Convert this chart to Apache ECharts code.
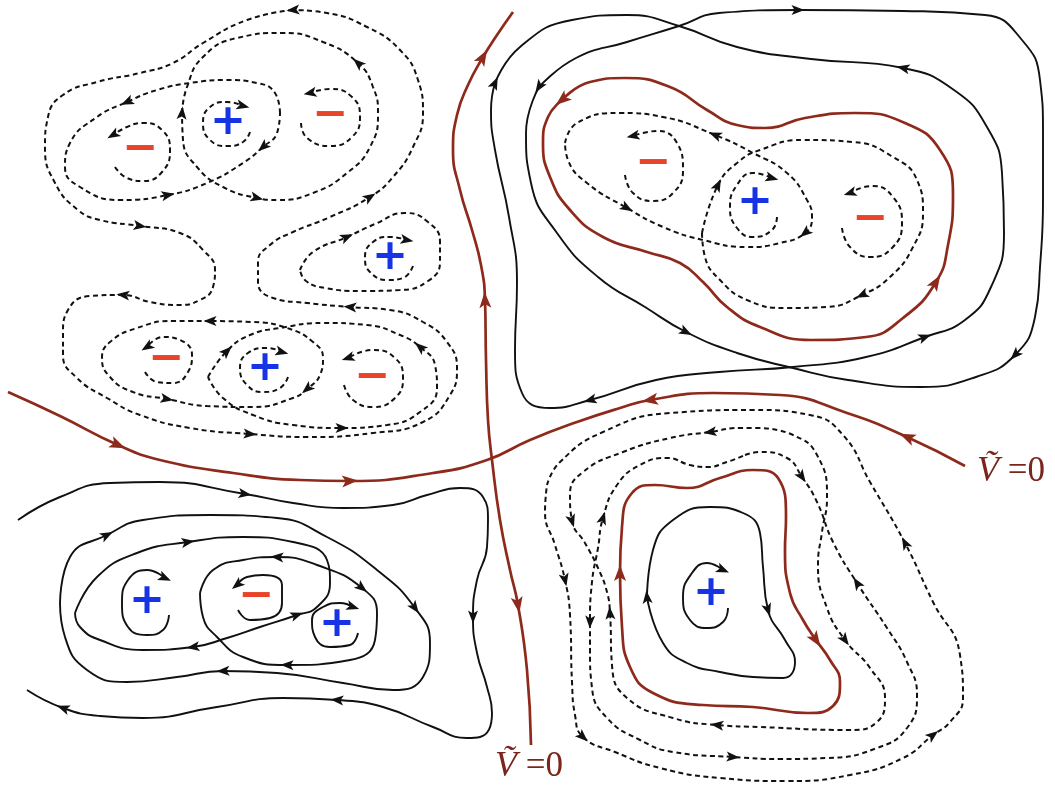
<!DOCTYPE html>
<html>
<head>
<meta charset="utf-8">
<script src="https://cdn.jsdelivr.net/npm/echarts/dist/echarts.min.js"></script>
<style>
  html, body { margin: 0; padding: 0; background: #ffffff; }
  #chart { width: 1055px; height: 787px; }
</style>
</head>
<body>
<div id="chart"></div>
<script>
// ---------- Streamline geometry (plane coordinates, y grows downward) ----------
// Each arrow entry is [point index, sense]: sense +1 follows the point order, -1 runs against it.

// Upper-left cluster
const tlArcA = [[115,167],[127,178],[143,181],[162,172],[170,150],[162,130],[142,123],[127,127],[113,135]];
const tlArcB = [[250,132],[243,142],[227,146],[210,140],[203,123],[210,107],[227,102],[243,106]];
const tlArcC = [[301,123],[307,138],[330,146],[352,137],[360,117],[352,97],[330,89],[310,93]];
const tlLoopL = [[280,113],[275,93],[257,83],[227,80],[190,83],[157,90],[127,102],[97,117],[70,143],[65,167],[80,187],[120,200],[168,195],[207,183],[243,163],[263,147],[277,133]];
const tlLoopLArrows = [[6,1],[12,1],[15,-1]];
const tlLoopR = [[182,113],[187,87],[203,57],[237,38],[283,33],[323,42],[358,63],[373,87],[378,113],[370,147],[347,173],[313,193],[277,200],[257,198],[223,187],[197,167],[183,140]];
const tlLoopRArrows = [[0,1],[6,-1],[13,-1]];
const tlOuter = [[293,10],[247,20],[203,43],[173,63],[140,73],[97,82],[63,95],[48,117],[45,147],[55,183],[78,210],[100,220],[140,226],[180,233],[203,250],[215,270],[213,287],[200,300],[177,305],[150,302],[123,295],[90,296],[68,310],[63,333],[63,355],[77,378],[107,398],[140,415],[190,428],[250,434],[307,437],[373,433],[423,422],[450,395],[457,368],[447,342],[423,322],[390,310],[350,307],[307,303],[273,298],[258,282],[258,262],[270,245],[293,232],[330,217],[370,197],[393,177],[413,147],[423,113],[418,80],[400,50],[367,27],[327,13]];
const tlOuterArrows = [[0,1],[12,1],[20,1],[29,1],[38,1],[46,1]];
const midDrop = [[300,270],[313,252],[347,237],[375,224],[405,213],[428,222],[440,242],[440,262],[428,281],[400,290],[360,291],[325,288],[306,281]];
const midDropArrows = [[2,1]];
const midArc = [[413,266],[403,278],[388,280],[370,272],[365,257],[373,242],[390,237],[407,240]];
const lowLoopL = [[210,321],[173,321],[137,328],[110,342],[102,358],[110,377],[133,392],[167,399],[207,406],[253,407],[293,398],[307,389],[320,375],[323,358],[313,342],[287,328],[253,322]];
const lowLoopLArrows = [[0,1],[7,1],[11,-1]];
const lowLoopR = [[208,377],[227,351],[250,335],[280,328],[323,323],[367,325],[400,335],[420,347],[435,365],[437,388],[420,412],[387,425],[342,428],[293,425],[253,415],[223,398]];
const lowLoopRArrows = [[1,1],[7,-1],[12,-1]];
const lowArcA = [[145,372],[157,382],[173,383],[188,372],[192,355],[180,340],[163,337],[147,347]];
const lowArcB = [[288,377],[280,388],[263,392],[247,385],[240,368],[248,353],[267,348],[282,352]];
const lowArcC = [[344,385],[353,400],[373,407],[395,398],[403,378],[395,358],[373,350],[348,358]];

// Upper-right cluster
const trDropL = [[565,143],[577,123],[620,113],[663,117],[715,135],[753,153],[787,173],[807,200],[812,217],[805,233],[780,243],[747,247],[703,240],[663,227],[627,208],[587,183],[568,160]];
const trDropLArrows = [[4,-1],[9,1],[14,-1]];
const trLoopR = [[702,233],[718,185],[737,163],[760,150],[803,140],[853,142],[893,157],[917,180],[923,213],[913,247],[890,277],[862,295],[827,307],[787,308],[747,300],[720,280],[705,257]];
const trLoopRArrows = [[1,1],[11,1]];
const trArcA = [[625,175],[633,193],[653,201],[673,193],[683,170],[677,143],[657,131],[633,136]];
const trArcB = [[777,217],[772,230],[753,237],[737,228],[730,207],[737,185],[753,173],[772,178]];
const trArcC = [[842,228],[850,247],[870,257],[892,248],[902,223],[893,197],[872,186],[850,193]];
const trRed = [[562,100],[548,117],[543,143],[550,177],[570,210],[603,237],[647,252],[680,263],[703,282],[727,307],[760,327],[811,340],[866,337],[903,318],[936,282],[948,245],[953,195],[940,150],[905,123],[855,113],[805,118],[765,128],[737,125],[707,110],[670,87],[625,78],[590,82]];
const trRedArrows = [[0,1],[14,1]];
const trSolidA = [[495,83],[520,47],[572,20],[627,15],[679,26],[737,47],[811,59],[903,68],[954,90],[987,127],[1002,173],[1004,233],[991,287],[965,320],[925,337],[866,357],[793,367],[719,372],[656,380],[590,400],[550,408],[522,393],[515,350],[517,283],[509,217],[495,150],[491,110]];
const trSolidAArrows = [[0,1],[7,-1],[14,-1],[19,1]];
const trSolidB = [[539,87],[526,133],[531,183],[557,233],[598,277],[645,307],[686,332],[737,353],[793,368],[848,380],[921,387],[976,377],[1015,355],[1035,317],[1040,267],[1043,200],[1043,133],[1040,80],[1022,40],[985,15],[903,11],[798,10],[719,13],[679,26],[627,42],[576,58]];
const trSolidBArrows = [[0,1],[6,1],[12,-1],[21,-1]];

// Separatrices  V~ = 0
const sepVertical = [[513,12],[497,35],[483,57],[468,85],[457,115],[453,150],[460,190],[472,230],[481,265],[485,300],[486,360],[488,420],[492,460],[500,520],[510,570],[518,605],[527,670],[531,745]];
const sepVerticalArrows = [[2,-1],[9,-1],[15,1]];
const sepHorizontal = [[8,392],[60,416],[118,445],[160,460],[233,473],[300,480],[350,481],[433,473],[487,460],[530,440],[577,422],[620,408],[650,400],[713,393],[780,395],[847,413],[907,437],[965,466]];
const sepHorizontalArrows = [[2,1],[6,1],[12,-1],[16,-1]];

// Lower-left cluster
const blOpen = [[18,520],[60,497],[110,483],[160,482],[245,494],[293,503],[343,508],[393,505],[427,495],[460,488],[483,497],[488,520],[487,547],[477,580],[473,617],[477,653],[487,687],[492,713],[480,737],[467,738],[433,727],[383,707],[337,700],[283,698],[217,707],[143,718],[100,716],[63,708],[27,690]];
const blOpenArrows = [[4,1],[14,1],[22,1],[27,1]];
const blOuter = [[60,603],[70,557],[107,535],[143,520],[210,515],[277,518],[327,537],[377,570],[415,608],[430,643],[423,677],[393,690],[343,683],[277,673],[223,671],[177,677],[127,682],[87,670],[65,637]];
const blOuterArrows = [[2,1],[8,1],[14,1]];
const blLoopL = [[75,613],[97,577],[137,553],[188,542],[243,537],[293,542],[327,560],[330,583],[317,607],[297,615],[260,627],[227,638],[193,647],[143,650],[100,640],[80,627]];
const blLoopLArrows = [[3,1],[9,-1],[12,1]];
const blLoopR = [[200,593],[213,570],[243,560],[277,557],[317,565],[362,588],[377,613],[375,640],[350,660],[287,665],[243,657],[217,637],[203,617]];
const blLoopRArrows = [[3,-1],[5,1],[9,1]];
const blArcA = [[169,615],[163,630],[147,635],[128,627],[122,603],[128,580],[147,570],[165,578]];
const blArcB = [[238,610],[250,620],[270,618],[282,603],[282,585],[263,575],[247,577],[237,585]];
const blArcC = [[358,633],[350,645],[330,647],[315,637],[312,620],[323,607],[340,603],[353,607]];

// Lower-right cluster
const brArc = [[728,608],[723,622],[707,628],[690,620],[683,597],[692,573],[707,563],[723,570]];
const brInner = [[647,597],[653,550],[673,520],[710,507],[743,513],[760,533],[763,567],[768,610],[785,640],[795,662],[783,678],[753,677],[720,672],[687,663],[663,643]];
const brInnerArrows = [[0,1],[7,1]];
const brRed = [[620,573],[622,527],[632,493],[655,485],[687,488],[720,478],[753,470],[778,478],[786,517],[785,550],[790,593],[803,620],[816,640],[830,660],[840,682],[833,706],[808,713],[753,707],[703,705],[653,693],[630,667],[622,627]];
const brRedArrows = [[0,1],[12,1]];
const brRing1 = [[547,485],[560,462],[603,432],[670,413],[753,410],[810,415],[843,435],[870,482],[905,543],[933,602],[960,655],[963,698],[950,722],[933,735],[903,758],[850,775],[787,781],[720,778],[660,768],[615,752],[583,737],[575,715],[572,682],[570,615],[565,580],[555,545],[545,512]];
const brRing1Arrows = [[8,-1],[13,-1],[20,-1],[24,-1]];
const brRing2 = [[760,428],[740,428],[710,432],[670,438],[623,452],[583,472],[570,495],[572,521],[585,543],[598,568],[607,592],[610,613],[612,665],[627,698],[673,718],[717,725],[760,727],[850,730],[877,722],[885,698],[870,668],[845,640],[827,608],[818,565],[822,532],[827,498],[817,455],[793,435]];
const brRing2Arrows = [[2,1],[7,1],[11,-1],[15,-1],[21,-1]];
const brRing3 = [[745,455],[760,452],[787,458],[802,477],[817,502],[833,542],[857,583],[887,628],[907,662],[917,695],[907,728],[877,748],[827,758],[780,759],[733,757],[673,752],[640,740],[607,718],[592,688],[590,650],[590,622],[592,582],[598,548],[603,518],[617,485],[640,465],[667,458],[690,465],[707,467],[727,462]];
const brRing3Arrows = [[3,1],[6,-1],[14,-1],[20,-1],[23,1]];

// Vortex centres
const plusCentres = [[228,123],[390,258],[265,369],[755,203],[147,602],[337,625],[711,594]];
const minusCentres = [[140,150],[330,116],[166,360],[372,378],[653,164],[870,220],[256,597]];
const zeroLabelSpots = [[1011,472],[529,767]];

// ---------- Curve groups ----------
const lastArrow = pts => [[pts.length - 1, 1]];
const curve = (pts, arrows, closed) => ({ pts, arrows, closed });

const dashedCurves = [
  curve(tlArcA, lastArrow(tlArcA), false),
  curve(tlArcB, lastArrow(tlArcB), false),
  curve(tlArcC, lastArrow(tlArcC), false),
  curve(tlLoopL, tlLoopLArrows, true),
  curve(tlLoopR, tlLoopRArrows, true),
  curve(tlOuter, tlOuterArrows, true),
  curve(midDrop, midDropArrows, true),
  curve(midArc, lastArrow(midArc), false),
  curve(lowLoopL, lowLoopLArrows, true),
  curve(lowLoopR, lowLoopRArrows, true),
  curve(lowArcA, lastArrow(lowArcA), false),
  curve(lowArcB, lastArrow(lowArcB), false),
  curve(lowArcC, lastArrow(lowArcC), false),
  curve(trDropL, trDropLArrows, true),
  curve(trLoopR, trLoopRArrows, true),
  curve(trArcA, lastArrow(trArcA), false),
  curve(trArcB, lastArrow(trArcB), false),
  curve(trArcC, lastArrow(trArcC), false),
  curve(brRing1, brRing1Arrows, true),
  curve(brRing2, brRing2Arrows, true),
  curve(brRing3, brRing3Arrows, true)
];
const solidCurves = [
  curve(trSolidA, trSolidAArrows, true),
  curve(trSolidB, trSolidBArrows, true),
  curve(blOpen, blOpenArrows, false),
  curve(blOuter, blOuterArrows, true),
  curve(blLoopL, blLoopLArrows, true),
  curve(blLoopR, blLoopRArrows, true),
  curve(blArcA, lastArrow(blArcA), false),
  curve(blArcB, lastArrow(blArcB), false),
  curve(blArcC, lastArrow(blArcC), false),
  curve(brArc, lastArrow(brArc), false),
  curve(brInner, brInnerArrows, true)
];
const redCurves = [
  curve(trRed, trRedArrows, true),
  curve(brRed, brRedArrows, true),
  curve(sepVertical, sepVerticalArrows, false),
  curve(sepHorizontal, sepHorizontalArrows, false)
];

// ---------- Styling ----------
const INK = '#111111';
const RUST = '#8e2a1c';
const ARROW_PATH = 'path://M5,0L10,13L5,10L0,13Z';

function lineSeries(c, lineStyle, z) {
  const data = c.closed ? c.pts.concat([c.pts[0]]) : c.pts;
  return {
    type: 'line', data, smooth: 0.5, symbol: 'none', silent: true,
    clip: false, lineStyle, z
  };
}

// Arrow heads sit on a curve vertex and follow the local chord direction.
function arrowItems(c) {
  const n = c.pts.length;
  return c.arrows.map(([i, sense]) => {
    let prev, next;
    if (c.closed) {
      prev = c.pts[(i - 1 + n) % n];
      next = c.pts[(i + 1) % n];
    } else {
      prev = c.pts[Math.max(i - 1, 0)];
      next = c.pts[Math.min(i + 1, n - 1)];
    }
    const dx = (next[0] - prev[0]) * sense;
    const dy = (next[1] - prev[1]) * sense;
    const rot = Math.atan2(-dy, dx) * 180 / Math.PI - 90;
    return { value: c.pts[i], symbolRotate: rot };
  });
}

function arrowSeries(curves, color, size, z) {
  return {
    type: 'scatter', silent: true, clip: false, z,
    symbol: ARROW_PATH, symbolSize: size,
    itemStyle: { color, opacity: 1 },
    data: curves.flatMap(arrowItems)
  };
}

const series = [];
dashedCurves.forEach(c => series.push(lineSeries(c, { color: INK, width: 2, type: [5, 3.5] }, 2)));
solidCurves.forEach(c => series.push(lineSeries(c, { color: INK, width: 1.9, type: 'solid' }, 2)));
redCurves.forEach(c => series.push(lineSeries(c, { color: RUST, width: 2.7, type: 'solid' }, 3)));
series.push(arrowSeries(dashedCurves.concat(solidCurves), INK, [10, 13], 5));
series.push(arrowSeries(redCurves, RUST, [12, 16], 6));

const glyphSeries = (data, text, color) => ({
  type: 'scatter', silent: true, z: 8, data,
  symbolSize: 1, itemStyle: { color: 'rgba(0,0,0,0)', opacity: 1 },
  label: {
    show: true, position: 'inside', formatter: text, color, opacity: 1,
    textBorderWidth: 0,
    fontFamily: 'DejaVu Sans', fontWeight: 'bold', fontSize: 43
  }
});
series.push(glyphSeries(plusCentres, '+', '#1733e6'));
series.push(glyphSeries(minusCentres, '\u2212', '#e8442a'));

series.push({
  type: 'scatter', silent: true, z: 8, data: zeroLabelSpots,
  symbolSize: 1, itemStyle: { color: 'rgba(0,0,0,0)', opacity: 1 },
  label: {
    show: true, position: 'inside', opacity: 1, textBorderWidth: 0,
    formatter: '{v|V\u0303}{e| =0}',
    rich: {
      v: { fontFamily: 'Liberation Serif', fontStyle: 'italic', fontSize: 36, color: '#7a261c' },
      e: { fontFamily: 'Liberation Serif', fontSize: 35, color: '#7a261c' }
    }
  }
});

const chart = echarts.init(document.getElementById('chart'), null, { renderer: 'canvas' });
chart.setOption({
  animation: false,
  backgroundColor: '#ffffff',
  grid: { left: 0, right: 0, top: 0, bottom: 0 },
  xAxis: { type: 'value', min: 0, max: 1055, show: false },
  yAxis: { type: 'value', min: 0, max: 787, inverse: true, show: false },
  series
});
</script>
</body>
</html>
